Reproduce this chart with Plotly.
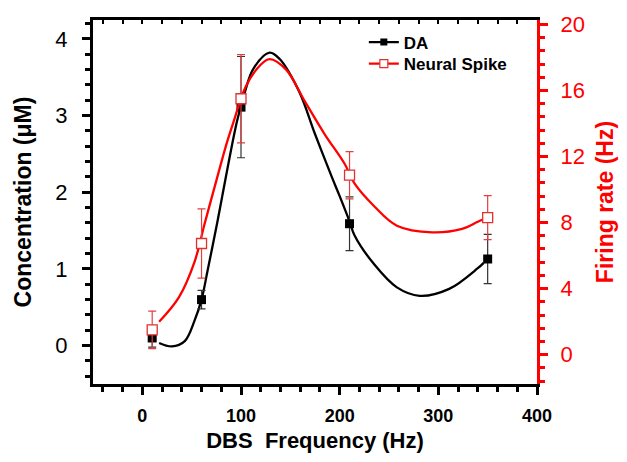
import plotly.graph_objects as go

# DBS frequencies (Hz)
freq = [10, 60, 100, 210, 350]

# DA concentration (uM) and errors
da_vals = [0.10, 0.60, 3.11, 1.59, 1.13]
da_err = [0.12, 0.12, 0.66, 0.35, 0.32]

# Neural spike firing rate (Hz) and errors
spike_vals = [1.50, 6.73, 15.5, 10.87, 8.30]
spike_err = [1.14, 2.10, 2.67, 1.43, 1.33]

# Smoothed curves
da_curve_x = [17, 30, 43, 53, 60, 66, 76, 81, 96, 104, 112.5, 129, 139, 159, 175, 192, 200,
              210, 215, 235, 258, 281, 311, 340, 346]
da_curve_y = [0.035, -0.01, 0.06, 0.33, 0.60, 0.97, 1.61, 1.95, 2.93, 3.31, 3.61, 3.82, 3.74,
              3.31, 2.76, 2.20, 1.95, 1.62, 1.44, 1.06, 0.76, 0.65, 0.74, 1.01, 1.08]

spike_curve_x = [17, 37, 53, 63, 73, 86, 93, 104.5, 119, 129, 145.5, 165, 185, 205, 215,
                 235, 258, 294, 324, 340, 346]
spike_curve_y = [1.99, 3.47, 5.64, 7.9, 10.1, 12.9, 14.2, 16.2, 17.5, 17.9, 17.28,
                 15.31, 13.33, 11.56, 10.37, 8.99, 7.81, 7.41, 7.62, 8.05, 8.2]

FONT = "Arial, Liberation Sans, sans-serif"
RED = "#ff0000"

fig = go.Figure()

# curves
fig.add_trace(go.Scatter(x=da_curve_x, y=da_curve_y, mode="lines",
                         line=dict(color="black", width=2.3, shape="spline", smoothing=1.0),
                         showlegend=False, hoverinfo="skip"))
fig.add_trace(go.Scatter(x=spike_curve_x, y=spike_curve_y, mode="lines", yaxis="y2",
                         line=dict(color=RED, width=2.3, shape="spline", smoothing=1.0),
                         showlegend=False, hoverinfo="skip"))

# markers with error bars
fig.add_trace(go.Scatter(x=freq, y=da_vals, mode="markers",
                         marker=dict(symbol="square", size=9, color="black"),
                         error_y=dict(type="data", array=da_err, color="#333333",
                                      thickness=1.2, width=4),
                         showlegend=False))
fig.add_trace(go.Scatter(x=freq, y=spike_vals, mode="markers", yaxis="y2",
                         marker=dict(symbol="square", size=10, color="white",
                                     line=dict(color="#e03030", width=1.3)),
                         error_y=dict(type="data", array=spike_err, color="#e04040",
                                      thickness=1.2, width=4),
                         showlegend=False))

# invisible trace to activate the top tick axis
fig.add_trace(go.Scatter(x=[None], y=[None], xaxis="x2", mode="markers",
                         showlegend=False, hoverinfo="skip"))

# legend entries
fig.add_trace(go.Scatter(x=[None], y=[None], mode="lines+markers", name="DA",
                         legend="legend",
                         line=dict(color="black", width=2.3),
                         marker=dict(symbol="square", size=7, color="black")))
fig.add_trace(go.Scatter(x=[None], y=[None], mode="lines+markers", name="Neural Spike",
                         legend="legend2",
                         line=dict(color=RED, width=2.3),
                         marker=dict(symbol="square", size=8, color="white",
                                     line=dict(color="#e03030", width=1.2))))

legend_style = dict(xanchor="left", yanchor="middle",
                    font=dict(size=17, weight="bold", family=FONT, color="black"),
                    bgcolor="rgba(0,0,0,0)", itemwidth=30, tracegroupgap=0)

fig.update_layout(
    width=627, height=462,
    margin=dict(l=93, r=80, t=20, b=70),
    paper_bgcolor="white", plot_bgcolor="white",
    font=dict(family=FONT, color="black"),
    xaxis=dict(range=[-50, 400], tick0=0, dtick=100, ticks="outside", ticklen=8,
               tickwidth=3, tickcolor="black", showline=True, linewidth=3,
               linecolor="black", mirror=True, showgrid=False, zeroline=False,
               ticklabelstandoff=5,
               tickfont=dict(size=18, weight="bold", family=FONT),
               minor=dict(tick0=0, dtick=20, ticks="outside", ticklen=5, tickwidth=2.5,
                          tickcolor="black"),
               title=dict(text="DBS\u00a0 Frequency (Hz)",
                          font=dict(size=22, weight="bold", family=FONT), standoff=9)),
    xaxis2=dict(overlaying="x", side="top", range=[-50, 400], tick0=0, dtick=20,
                ticks="inside", ticklen=4, tickwidth=1.5, tickcolor="black",
                showticklabels=False, showgrid=False, zeroline=False, showline=False),
    yaxis=dict(range=[-0.5, 4.246], tick0=0, dtick=1, ticks="outside", ticklen=8,
               tickwidth=3, tickcolor="black", showline=True, linewidth=3,
               linecolor="black", showgrid=False, zeroline=False,
               ticklabelstandoff=10,
               tickfont=dict(size=22, family=FONT),
               minor=dict(tick0=0, dtick=0.2, ticks="outside", ticklen=5, tickwidth=2.5,
                          tickcolor="black"),
               title=dict(text="Concentration (\u03bcM)",
                          font=dict(size=23, weight="bold", family=FONT), standoff=18)),
    yaxis2=dict(overlaying="y", side="right", range=[-1.78, 20.27], tick0=0, dtick=4,
                ticks="outside", ticklen=8, tickwidth=3, tickcolor=RED, showline=True,
                linewidth=3, linecolor=RED, showgrid=False, zeroline=False,
                ticklabelstandoff=8,
                tickfont=dict(size=22, color=RED, family=FONT),
                minor=dict(tick0=0, dtick=0.8, ticks="outside", ticklen=5, tickwidth=2.5,
                           tickcolor=RED),
                title=dict(text="Firing rate (Hz)",
                           font=dict(size=23, weight="bold", color=RED, family=FONT),
                           standoff=14)),
    legend=dict(x=0.61, y=0.938, **legend_style),
    legend2=dict(x=0.61, y=0.879, **legend_style),
)

fig.write_html(
    "out.html",
    config={"displayModeBar": False},
    post_script="document.body.style.margin='0';document.body.style.overflow='hidden';",
)
